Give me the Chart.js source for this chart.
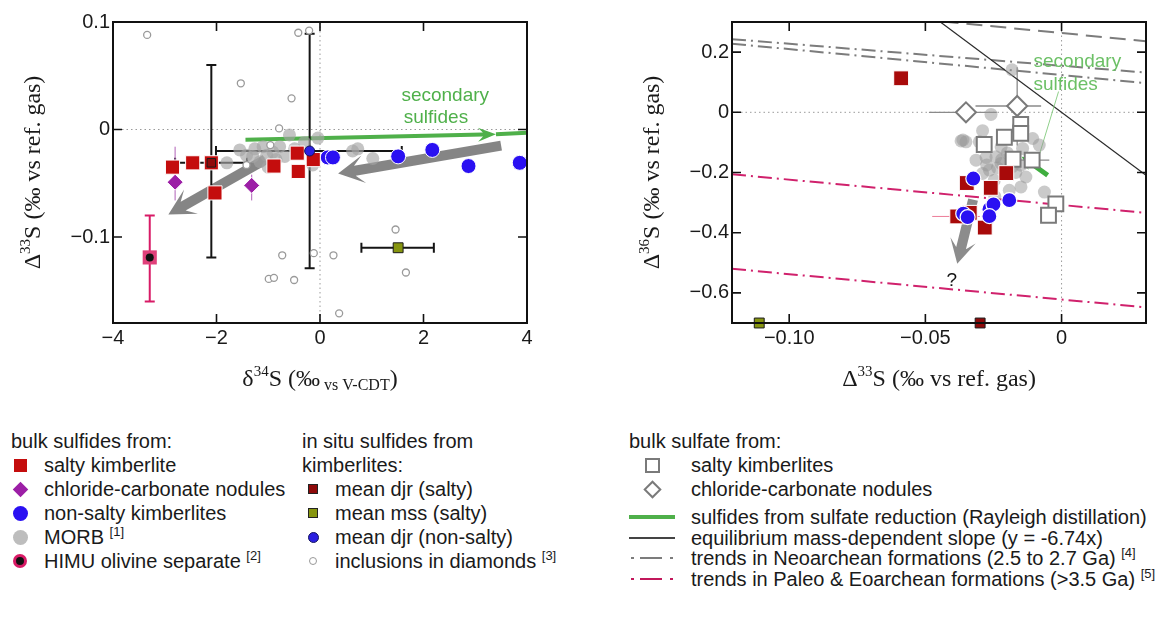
<!DOCTYPE html>
<html>
<head>
<meta charset="utf-8">
<script src="https://cdn.jsdelivr.net/npm/chart.js@4/dist/chart.umd.min.js"></script>
<style>
  body { margin: 0; background: #fff; width: 1166px; height: 618px; position: relative; overflow: hidden;
         font-family: "Liberation Sans", Arial, sans-serif; color: #1a1a1a; }
  #wrapL { position: absolute; left: 0; top: 0; }
  #wrapR { position: absolute; left: 580px; top: 0; }
  .row { position: absolute; font-size: 20px; line-height: 24px; white-space: nowrap; }
  .row sup { font-size: 13px; vertical-align: 8px; line-height: 0; }
  .mk { position: absolute; box-sizing: border-box; }
</style>
</head>
<body>
<div id="wrapL"><canvas id="chartL" width="580" height="400"></canvas></div>
<div id="wrapR"><canvas id="chartR" width="586" height="400"></canvas></div>
<div id="legend"></div>
<script>
// ---------- left panel: d34S vs D33S ----------
const leftXTicks = [-4, -2, 0, 2, 4];
const leftXTickLabels = ['\u22124', '\u22122', '0', '2', '4'];
const leftYTicks = [0.1, 0, -0.1];
const leftYTickLabels = ['0.1', '0', '\u22120.1'];

const saltyLX = [-2.85, -2.46, -2.10, -2.03, -0.89, -0.44, -0.42, -0.13];
const saltyLY = [-0.035, -0.031, -0.031, -0.059, -0.034, -0.022, -0.039, -0.028];

const noduleLX = [-2.80, -1.32];
const noduleLY = [-0.049, -0.052];
const noduleLYErr = [[-0.066, -0.016], [-0.066, -0.042]];

const nonSaltyLX = [0.15, 0.25, 1.51, 2.17, 2.87, 3.86];
const nonSaltyLY = [-0.026, -0.026, -0.025, -0.019, -0.034, -0.031];

const morbLX = [-1.55, -1.26, -1.10, -0.78, -0.59, -0.04, 0.63, 0.73, 1.02, -1.80, -1.03,
                -1.30, -1.16, -0.91, -0.68, -0.49, -0.14, -1.42, -0.30, -0.85, -1.00];
const morbLY = [-0.019, -0.018, -0.016, -0.016, -0.005, -0.008, -0.020, -0.018, -0.027, -0.031, -0.024,
                -0.025, -0.030, -0.021, -0.025, -0.018, -0.033, -0.024, -0.012, -0.028, -0.035];

const himuX = [-3.29];
const himuY = [-0.119];
const himuYErr = [[-0.160, -0.080]];

const djrSaltyLX = [-2.10];
const djrSaltyLY = [-0.031];
const djrSaltyLXErr = [[-2.80, -1.41]];
const djrSaltyLYErr = [[-0.119, 0.060]];

const mssLX = [1.51];
const mssLY = [-0.110];
const mssLXErr = [[0.80, 2.20]];

const djrNonSaltyX = [-0.20];
const djrNonSaltyY = [-0.020];
const djrNonSaltyXErr = [[-2.01, 1.58]];
const djrNonSaltyYErr = [[-0.129, 0.089]];

const inclX = [-3.34, -0.21, -0.42, -1.53, -0.55, -0.79, -0.96, 1.46, 1.66, -0.73,
               -0.12, 0.26, -0.99, -0.89, -0.50, 0.37, -1.42];
const inclY = [0.088, 0.092, 0.090, 0.043, 0.029, 0.001, -0.0145, -0.093, -0.133, -0.117,
               -0.115, -0.117, -0.139, -0.138, -0.140, -0.171, -0.033];

// arrows: [x tail, y tail, x tip, y tip]
const leftGrayArrows = [[3.50, -0.015, 0.35, -0.041], [-1.06, -0.028, -2.93, -0.079]];
const leftGreenArrow = [-1.44, -0.0095, 3.40, -0.0045];
const leftGreenTailX = [3.40, 4.0];
const leftGreenTailY = [-0.0045, -0.003];
const leftNoteText = ['secondary', 'sulfides'];
const leftNoteX = [2.42, 2.24];
const leftNoteY = [0.031, 0.0105];

// ---------- right panel: D33S vs D36S ----------
const rightXTicks = [-0.10, -0.05, 0];
const rightXTickLabels = ['\u22120.10', '\u22120.05', '0'];
const rightYTicks = [0.2, 0, -0.2, -0.4, -0.6];
const rightYTickLabels = ['0.2', '0', '\u22120.2', '\u22120.4', '\u22120.6'];

const saltyRX = [-0.0589, -0.0348, -0.0260, -0.0203, -0.0383, -0.0337, -0.0282];
const saltyRY = [0.113, -0.235, -0.251, -0.202, -0.346, -0.334, -0.383];
const saltyRXErr = [null, null, null, null, [-0.0475, -0.0300], null, null];

const nonSaltyRX = [-0.0324, -0.0192, -0.0265, -0.0250, -0.0361, -0.0345, -0.0265];
const nonSaltyRY = [-0.220, -0.292, -0.322, -0.306, -0.337, -0.348, -0.345];

const sulfateSqX = [-0.0150, -0.0150, -0.0210, -0.0284, -0.0178, -0.0108, -0.0021, -0.0048];
const sulfateSqY = [-0.040, -0.070, -0.083, -0.107, -0.156, -0.159, -0.304, -0.342];
const sulfateSqXErr = [[-0.0180, -0.0120], null, null, null, null, [-0.0180, -0.0045], null, null];

const sulfateDiaX = [-0.0351, -0.0163];
const sulfateDiaY = [0.000, 0.021];
const sulfateDiaXErr = [[-0.0487, -0.0238], [-0.0316, -0.0075]];
const sulfateDiaYErr = [null, [-0.110, 0.150]];

const morbRX = [-0.0259, -0.0290, -0.0369, -0.0351, -0.0302, -0.0222, -0.0143, -0.0106, -0.0082, -0.0314,
                -0.0277, -0.0241, -0.0222, -0.0265, -0.0290, -0.0149, -0.0131, -0.0149, -0.0192, -0.0168,
                -0.0063, -0.0247, -0.0220, -0.0182, -0.0362, -0.0199, -0.0235, -0.0180, -0.0275, -0.0245];
const morbRY = [-0.007, -0.061, -0.095, -0.098, -0.098, -0.115, -0.120, -0.087, -0.109, -0.159,
                -0.150, -0.148, -0.170, -0.192, -0.203, -0.176, -0.215, -0.248, -0.259, -0.200,
                -0.265, -0.226, -0.157, 0.141, -0.092, -0.135, -0.185, -0.180, -0.175, -0.280];

// off-scale in situ means sitting on the lower axis
const mssRX = [-0.111];
const mssRY = [-0.70];
const djrSaltyRX = [-0.0299];
const djrSaltyRY = [-0.70];

// reference lines (end points)
const eqSlopeX = [-0.0445, 0.031];
const eqSlopeY = [0.300, -0.209];
const neoAX = [-0.121, 0.031];
const neoAY = [0.243, 0.132];
const neoBX = [-0.121, 0.031];
const neoBY = [0.228, 0.097];
const neoCX = [-0.0437, 0.031];
const neoCY = [0.302, 0.236];
const paleoAX = [-0.121, 0.031];
const paleoAY = [-0.206, -0.334];
const paleoBX = [-0.121, 0.031];
const paleoBY = [-0.520, -0.648];

const rightGrayArrow = [-0.0325, -0.290, -0.0383, -0.503];
const rightGreenArrow = [-0.0051, -0.209, -0.0146, -0.148];
const rightLeaderX = [-0.0011, -0.0082];
const rightLeaderY = [0.069, -0.142];
const rightNoteText = ['secondary', 'sulfides', '?'];
const rightNoteX = [0.0058, 0.0015, -0.0403];
const rightNoteY = [0.169, 0.091, -0.559];

// ---------- helpers ----------
const SANS = '"Liberation Sans", Arial, sans-serif';
const SERIF = '"Liberation Serif", "Times New Roman", serif';
const pts = (xs, ys) => xs.map((x, i) => ({ x, y: ys[i] }));

function arrowPath(ctx, x1, y1, x2, y2, sw, L, hw, notch) {
  const dx = x2 - x1, dy = y2 - y1, len = Math.hypot(dx, dy);
  const ux = dx / len, uy = dy / len, nx = -uy, ny = ux;
  const bx = x2 - ux * L, by = y2 - uy * L;
  const kx = x2 - ux * (L - notch), ky = y2 - uy * (L - notch);
  ctx.beginPath();
  ctx.moveTo(x1 + nx * sw, y1 + ny * sw);
  ctx.lineTo(kx + nx * sw, ky + ny * sw);
  ctx.lineTo(bx + nx * hw, by + ny * hw);
  ctx.lineTo(x2, y2);
  ctx.lineTo(bx - nx * hw, by - ny * hw);
  ctx.lineTo(kx - nx * sw, ky - ny * sw);
  ctx.lineTo(x1 - nx * sw, y1 - ny * sw);
  ctx.closePath();
  ctx.fill();
}

function drawRich(ctx, parts, cx, baseY, rot) {
  ctx.save();
  ctx.translate(cx, baseY);
  ctx.rotate(rot);
  let total = 0;
  parts.forEach(p => { ctx.font = p[1] + 'px ' + SERIF; total += ctx.measureText(p[0]).width; });
  let x = -total / 2;
  ctx.fillStyle = '#1a1a1a';
  ctx.textBaseline = 'alphabetic';
  parts.forEach(p => {
    ctx.font = p[1] + 'px ' + SERIF;
    ctx.fillText(p[0], x, p[2]);
    x += ctx.measureText(p[0]).width;
  });
  ctx.restore();
}

// frame with inward ticks on all four sides, plus dotted zero lines
const framePlugin = {
  id: 'framePlugin',
  beforeDatasetsDraw(chart) {
    const { ctx, chartArea: a, scales: { x, y } } = chart;
    ctx.save();
    ctx.strokeStyle = '#9a9a9a';
    ctx.lineWidth = 1;
    ctx.setLineDash([1.5, 3]);
    const x0 = x.getPixelForValue(0), y0 = y.getPixelForValue(0);
    ctx.beginPath();
    ctx.moveTo(a.left, y0); ctx.lineTo(a.right, y0);
    ctx.moveTo(x0, a.top); ctx.lineTo(x0, a.bottom);
    ctx.stroke();
    ctx.restore();
  },
  afterDraw(chart) {
    const { ctx, chartArea: a, scales: { x, y } } = chart;
    ctx.save();
    ctx.strokeStyle = '#111';
    ctx.lineWidth = 2;
    ctx.strokeRect(a.left, a.top, a.width, a.height);
    ctx.lineWidth = 1.6;
    ctx.beginPath();
    x.ticks.forEach(t => {
      const p = x.getPixelForValue(t.value);
      ctx.moveTo(p, a.bottom); ctx.lineTo(p, a.bottom - 9);
      ctx.moveTo(p, a.top); ctx.lineTo(p, a.top + 9);
    });
    y.ticks.forEach(t => {
      const p = y.getPixelForValue(t.value);
      ctx.moveTo(a.left, p); ctx.lineTo(a.left + 9, p);
      ctx.moveTo(a.right, p); ctx.lineTo(a.right - 9, p);
    });
    ctx.stroke();
    const t = chart.options.plugins.titles;
    drawRich(ctx, t.x, (a.left + a.right) / 2, t.xBase, 0);
    drawRich(ctx, t.y, t.yBase, (a.top + a.bottom) / 2, -Math.PI / 2);
    ctx.restore();
  }
};

// error bars read from errX / errY on each dataset
const errorBarPlugin = {
  id: 'errorBarPlugin',
  beforeDatasetsDraw(chart) {
    const { ctx, scales: { x, y } } = chart;
    chart.data.datasets.forEach(ds => {
      if (!ds.errX && !ds.errY) return;
      ctx.save();
      ctx.strokeStyle = ds.errColor;
      ctx.lineWidth = ds.errWidth || 1.5;
      const cap = ds.errCap || 0;
      ds.data.forEach((p, i) => {
        const px = x.getPixelForValue(p.x), py = y.getPixelForValue(p.y);
        const ex = ds.errX && ds.errX[i], ey = ds.errY && ds.errY[i];
        ctx.beginPath();
        if (ex) {
          const l = x.getPixelForValue(ex[0]), r = x.getPixelForValue(ex[1]);
          ctx.moveTo(l, py); ctx.lineTo(r, py);
          if (cap) { ctx.moveTo(l, py - cap); ctx.lineTo(l, py + cap); ctx.moveTo(r, py - cap); ctx.lineTo(r, py + cap); }
        }
        if (ey) {
          const b = y.getPixelForValue(ey[0]), t = y.getPixelForValue(ey[1]);
          ctx.moveTo(px, b); ctx.lineTo(px, t);
          if (cap) { ctx.moveTo(px - cap, b); ctx.lineTo(px + cap, b); ctx.moveTo(px - cap, t); ctx.lineTo(px + cap, t); }
        }
        ctx.stroke();
      });
      ctx.restore();
    });
  }
};

// arrows and text notes placed in data units
const arrowPlugin = {
  id: 'arrowPlugin',
  beforeDatasetsDraw(chart) {
    const { ctx, scales: { x, y } } = chart;
    const opt = chart.options.plugins.arrowPlugin;
    ctx.save();
    opt.arrows.forEach(ar => {
      ctx.fillStyle = ar.color;
      const d = ar.at;
      arrowPath(ctx, x.getPixelForValue(d[0]), y.getPixelForValue(d[1]),
        x.getPixelForValue(d[2]), y.getPixelForValue(d[3]), ar.sw, ar.L, ar.hw, ar.notch);
    });
    ctx.restore();
  },
  afterDatasetsDraw(chart) {
    const { ctx, scales: { x, y } } = chart;
    const n = chart.options.plugins.arrowPlugin.notes;
    ctx.save();
    ctx.textAlign = 'center';
    ctx.textBaseline = 'middle';
    n.text.forEach((s, i) => {
      ctx.fillStyle = n.colors[i];
      ctx.font = n.size + 'px ' + SANS;
      ctx.fillText(s, x.getPixelForValue(n.x[i]), y.getPixelForValue(n.y[i]));
    });
    ctx.restore();
  }
};

function axis(ticks, labels, extra) {
  return Object.assign({
    type: 'linear',
    grid: { display: false, drawTicks: false },
    border: { display: false },
    afterBuildTicks: s => { s.ticks = ticks.map(v => ({ value: v })); },
    ticks: {
      callback: (v, i) => labels[i],
      font: { family: SANS, size: 20 },
      color: '#1a1a1a',
      autoSkip: false,
      maxRotation: 0
    }
  }, extra);
}

const common = {
  responsive: false,
  animation: false,
  events: [],
  plugins: { legend: { display: false }, tooltip: { enabled: false } }
};

// ---------- left chart ----------
new Chart(document.getElementById('chartL'), {
  type: 'scatter',
  data: {
    datasets: [
      { data: pts(djrNonSaltyX, djrNonSaltyY), pointStyle: 'circle', pointRadius: 5, backgroundColor: '#2b1fe0', borderColor: '#151560', borderWidth: 1,
        errX: djrNonSaltyXErr, errY: djrNonSaltyYErr, errColor: '#151515', errWidth: 2, errCap: 5 },
      { data: pts(djrSaltyLX, djrSaltyLY), pointStyle: 'rect', pointRadius: 6, backgroundColor: '#8e0a0a', borderColor: '#1a1a1a', borderWidth: 1,
        errX: djrSaltyLXErr, errY: djrSaltyLYErr, errColor: '#151515', errWidth: 2, errCap: 5 },
      { data: pts(mssLX, mssLY), pointStyle: 'rect', pointRadius: 7, backgroundColor: '#86950f', borderColor: '#1a1a1a', borderWidth: 1,
        errX: mssLXErr, errColor: '#151515', errWidth: 2, errCap: 5 },
      { data: pts(himuX, himuY), pointStyle: 'circle', pointRadius: 4, backgroundColor: '#111', borderWidth: 0 },
      { data: pts(himuX, himuY), pointStyle: 'rect', pointRadius: 10, backgroundColor: '#e0407a', borderWidth: 0,
        errY: himuYErr, errColor: '#d81b66', errWidth: 2, errCap: 5 },
      { data: pts(saltyLX, saltyLY), pointStyle: 'rect', pointRadius: 10, backgroundColor: '#c40d0d', borderColor: '#fff', borderWidth: 1 },
      { data: pts(noduleLX, noduleLY), pointStyle: 'rectRot', pointRadius: 8, backgroundColor: '#9c1fa6', borderColor: '#fff', borderWidth: 1,
        errY: noduleLYErr, errColor: '#b060b8', errWidth: 1 },
      { data: pts(nonSaltyLX, nonSaltyLY), pointStyle: 'circle', pointRadius: 7.5, backgroundColor: '#2a10f2', borderColor: '#fff', borderWidth: 1 },
      { data: pts(inclX, inclY), pointStyle: 'circle', pointRadius: 3.5, backgroundColor: '#fff', borderColor: '#9a9a9a', borderWidth: 1.3 },
      { data: pts(morbLX, morbLY), pointStyle: 'circle', pointRadius: 6.5, backgroundColor: 'rgba(165,165,165,0.65)', borderWidth: 0 },
      { type: 'line', data: pts(leftGreenTailX, leftGreenTailY), borderColor: '#4fb04a', borderWidth: 4, pointRadius: 0 }
    ]
  },
  options: Object.assign({}, common, {
    layout: { padding: { left: 0, top: 22, right: 53, bottom: 0 } },
    scales: {
      x: axis(leftXTicks, leftXTickLabels, { min: -4, max: 4, afterFit: s => { s.height = 77; } }),
      y: axis(leftYTicks, leftYTickLabels, { min: -0.18, max: 0.1, afterFit: s => { s.width = 113; } })
    },
    plugins: Object.assign({}, common.plugins, {
      titles: {
        x: [['\u03b4', 24, 0], ['34', 15, -10], ['S (\u2030', 24, 0], [' vs V-CDT', 16, 4], [')', 24, 0]],
        xBase: 386,
        y: [['\u0394', 24, 0], ['33', 15, -10], ['S (\u2030 vs ref. gas)', 24, 0]],
        yBase: 40
      },
      arrowPlugin: {
        arrows: [
          { at: leftGreenArrow, color: '#4fb04a', sw: 2, L: 18, hw: 7, notch: 5 },
          { at: leftGrayArrows[0], color: 'rgba(112,112,112,0.85)', sw: 5, L: 26, hw: 14, notch: 9 },
          { at: leftGrayArrows[1], color: 'rgba(112,112,112,0.85)', sw: 5, L: 26, hw: 14, notch: 9 }
        ],
        notes: { text: leftNoteText, x: leftNoteX, y: leftNoteY, colors: ['#4fb04a', '#4fb04a'], size: 19 }
      }
    })
  }),
  plugins: [framePlugin, arrowPlugin, errorBarPlugin]
});

// ---------- right chart ----------
const dashDot = [14, 5, 2, 5];
new Chart(document.getElementById('chartR'), {
  type: 'scatter',
  data: {
    datasets: [
      { data: pts(nonSaltyRX, nonSaltyRY), pointStyle: 'circle', pointRadius: 7.5, backgroundColor: '#2a10f2', borderColor: '#fff', borderWidth: 1.2 },
      { data: pts(saltyRX, saltyRY), pointStyle: 'rect', pointRadius: 10.5, backgroundColor: '#a80a0a', borderColor: '#fff', borderWidth: 1,
        errX: saltyRXErr, errColor: '#ec7d98', errWidth: 1 },
      { data: pts(sulfateSqX, sulfateSqY), pointStyle: 'rect', pointRadius: 10.5, backgroundColor: '#fff', borderColor: '#7a7a7a', borderWidth: 2,
        errX: sulfateSqXErr, errColor: '#8a8a8a', errWidth: 1.3 },
      { data: pts(sulfateDiaX, sulfateDiaY), pointStyle: 'rectRot', pointRadius: 10, backgroundColor: '#fff', borderColor: '#7a7a7a', borderWidth: 2,
        errX: sulfateDiaXErr, errY: sulfateDiaYErr, errColor: '#8a8a8a', errWidth: 1.3 },
      { data: pts(morbRX, morbRY), pointStyle: 'circle', pointRadius: 6.5, backgroundColor: 'rgba(150,150,150,0.5)', borderWidth: 0 },
      { data: pts(mssRX, mssRY), pointStyle: 'rect', pointRadius: 7, backgroundColor: '#86950f', borderColor: '#1a1a1a', borderWidth: 1, clip: false },
      { data: pts(djrSaltyRX, djrSaltyRY), pointStyle: 'rect', pointRadius: 7, backgroundColor: '#8e0a0a', borderColor: '#1a1a1a', borderWidth: 1, clip: false },
      { type: 'line', data: pts(rightLeaderX, rightLeaderY), borderColor: '#8fd08a', borderWidth: 1, pointRadius: 0 },
      { type: 'line', data: pts(eqSlopeX, eqSlopeY), borderColor: '#2a2a2a', borderWidth: 1.2, pointRadius: 0 },
      { type: 'line', data: pts(neoAX, neoAY), borderColor: '#7c7c7c', borderWidth: 2, borderDash: dashDot, pointRadius: 0 },
      { type: 'line', data: pts(neoBX, neoBY), borderColor: '#7c7c7c', borderWidth: 2, borderDash: dashDot, pointRadius: 0 },
      { type: 'line', data: pts(neoCX, neoCY), borderColor: '#7c7c7c', borderWidth: 2, borderDash: [16, 8], pointRadius: 0 },
      { type: 'line', data: pts(paleoAX, paleoAY), borderColor: '#d0216c', borderWidth: 2, borderDash: dashDot, pointRadius: 0 },
      { type: 'line', data: pts(paleoBX, paleoBY), borderColor: '#d0216c', borderWidth: 2, borderDash: dashDot, pointRadius: 0 }
    ]
  },
  options: Object.assign({}, common, {
    layout: { padding: { left: 0, top: 22, right: 20, bottom: 0 } },
    scales: {
      x: axis(rightXTicks, rightXTickLabels, { min: -0.121, max: 0.031, afterFit: s => { s.height = 77; } }),
      y: axis(rightYTicks, rightYTickLabels, { min: -0.7, max: 0.3, afterFit: s => { s.width = 152; } })
    },
    plugins: Object.assign({}, common.plugins, {
      titles: {
        x: [['\u0394', 24, 0], ['33', 15, -10], ['S (\u2030 vs ref. gas)', 24, 0]],
        xBase: 386,
        y: [['\u0394', 24, 0], ['36', 15, -10], ['S (\u2030 vs ref. gas)', 24, 0]],
        yBase: 79
      },
      arrowPlugin: {
        arrows: [
          { at: rightGrayArrow, color: 'rgba(120,120,120,0.85)', sw: 5, L: 24, hw: 13, notch: 8 },
          { at: rightGreenArrow, color: '#3fae3f', sw: 2.5, L: 13, hw: 7, notch: 4 }
        ],
        notes: { text: rightNoteText, x: rightNoteX, y: rightNoteY, colors: ['#6cc066', '#6cc066', '#111'], size: 19 }
      }
    })
  }),
  plugins: [framePlugin, arrowPlugin, errorBarPlugin]
});

// ---------- legend (HTML) ----------
const legendRows = [
  // [left, centerY, text, marker]
  [11, 441, 'bulk sulfides from:', null],
  [44, 465, 'salty kimberlite', 'salty'],
  [44, 489, 'chloride-carbonate nodules', 'nodule'],
  [44, 513, 'non-salty kimberlites', 'nonsalty'],
  [44, 537, 'MORB <sup>[1]</sup>', 'morb'],
  [44, 561, 'HIMU olivine separate <sup>[2]</sup>', 'himu'],
  [302, 441, 'in situ sulfides from', null],
  [302, 465, 'kimberlites:', null],
  [335, 489, 'mean djr (salty)', 'djrs'],
  [335, 513, 'mean mss (salty)', 'mss'],
  [335, 537, 'mean djr (non-salty)', 'djrn'],
  [335, 561, 'inclusions in diamonds <sup>[3]</sup>', 'incl'],
  [629, 441, 'bulk sulfate from:', null],
  [691, 465, 'salty kimberlites', 'osq'],
  [691, 489, 'chloride-carbonate nodules', 'odia'],
  [691, 517, 'sulfides from sulfate reduction (Rayleigh distillation)', 'lgreen'],
  [691, 538, 'equilibrium mass-dependent slope (y = -6.74x)', 'lblack'],
  [691, 558, 'trends in Neoarchean formations (2.5 to 2.7 Ga) <sup>[4]</sup>', 'lneo'],
  [691, 579, 'trends in Paleo &amp; Eoarchean formations (&gt;3.5 Ga) <sup>[5]</sup>', 'lpaleo']
];
const markerCss = {
  salty:    [20, 13, 13, 'background:#c40d0d'],
  nodule:   [20, 11, 11, 'background:#9c1fa6;transform:rotate(45deg)'],
  nonsalty: [20, 15, 15, 'background:#2a10f2;border-radius:50%'],
  morb:     [20, 15, 15, 'background:#bdbdbd;border-radius:50%'],
  himu:     [20, 14, 14, 'background:#111;border:3px solid #d81b66;border-radius:50%'],
  djrs:     [313, 10, 10, 'background:#8e0a0a;border:1px solid #222'],
  mss:      [313, 10, 10, 'background:#86950f;border:1px solid #222'],
  djrn:     [313, 11, 11, 'background:#2b1fe0;border:1px solid #151560;border-radius:50%'],
  incl:     [313, 8, 8, 'border:1.3px solid #999;border-radius:50%'],
  osq:      [652, 15, 15, 'border:2px solid #7a7a7a'],
  odia:     [652, 13, 13, 'border:2px solid #7a7a7a;transform:rotate(45deg)'],
  lgreen:   [652, 46, 4, 'background:#4fb04a'],
  lblack:   [652, 46, 1.5, 'background:#444']
};
const leg = document.getElementById('legend');
legendRows.forEach(r => {
  const d = document.createElement('div');
  d.className = 'row';
  d.style.left = r[0] + 'px';
  d.style.top = (r[1] - 12) + 'px';
  d.innerHTML = r[2];
  leg.appendChild(d);
  const m = r[3];
  if (!m) return;
  if (m === 'lneo' || m === 'lpaleo') {
    const c = m === 'lneo' ? '#7c7c7c' : '#c2185b';
    [[631, 3], [640, 22], [670, 3]].forEach(s => {
      const e = document.createElement('div');
      e.className = 'mk';
      e.style.cssText = `left:${s[0]}px;top:${r[1] - 1}px;width:${s[1]}px;height:2px;background:${c}`;
      leg.appendChild(e);
    });
    return;
  }
  const k = markerCss[m];
  const e = document.createElement('div');
  e.className = 'mk';
  e.style.cssText = `left:${k[0] - k[1] / 2}px;top:${r[1] - k[2] / 2}px;width:${k[1]}px;height:${k[2]}px;${k[3]}`;
  leg.appendChild(e);
});
</script>
</body>
</html>
